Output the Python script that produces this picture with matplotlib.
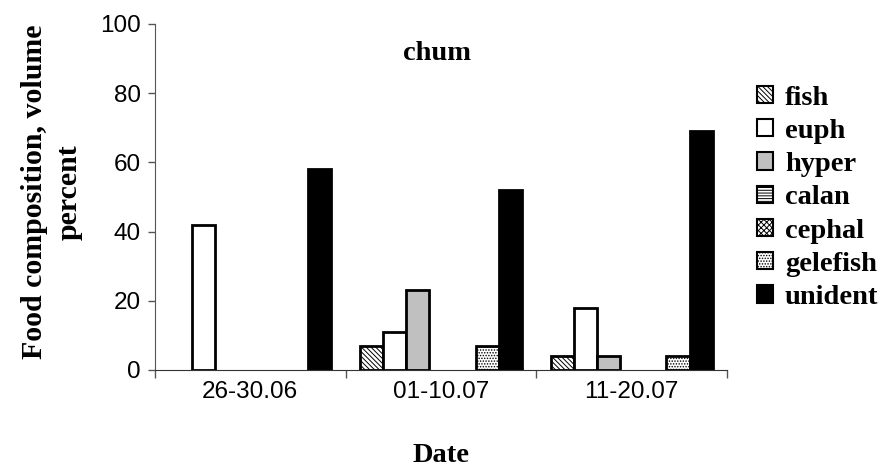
import matplotlib
matplotlib.use("Agg")
import matplotlib.pyplot as plt
import numpy as np

categories = ["26-30.06", "01-10.07", "11-20.07"]
series = ["fish", "euph", "hyper", "calan", "cephal", "gelefish", "unident"]
fish = [0, 7, 4]
euph = [42, 11, 18]
hyper = [0, 23, 4]
calan = [0, 0, 0]
cephal = [0, 0, 0]
gelefish = [0, 7, 4]
unident = [58, 52, 69]
values = [fish, euph, hyper, calan, cephal, gelefish, unident]

styles = [
    dict(facecolor="white", hatch="\\\\\\\\\\\\\\", edgecolor="black"),
    dict(facecolor="white", hatch="", edgecolor="black"),
    dict(facecolor="#c0c0c0", hatch="", edgecolor="black"),
    dict(facecolor="white", hatch="------", edgecolor="black"),
    dict(facecolor="white", hatch="xxxxxx", edgecolor="black"),
    dict(facecolor="white", hatch="......", edgecolor="black"),
    dict(facecolor="black", hatch="", edgecolor="black"),
]

plt.rcParams['hatch.linewidth'] = 0.7
plt.rcParams['hatch.color'] = '#555555'

fig = plt.figure(figsize=(8.85, 4.7), dpi=100)
ax = fig.add_axes([0.175, 0.2128, 0.6465, 0.7362])

n = len(series)
w = 0.85 / n
x = np.arange(len(categories))
for i, (name, vals, st) in enumerate(zip(series, values, styles)):
    pos = x - 0.425 + w * (i + 0.5)
    lws = [2 if v > 0 else 0 for v in vals]
    ax.bar(pos, vals, width=w, linewidth=lws, label=name, **st)

ax.set_xlim(-0.5, 2.5)
ax.set_ylim(0, 100)
ax.set_yticks([0, 20, 40, 60, 80, 100])
ax.set_xticks(x)
ax.set_xticklabels(categories)
ax.set_xticks([-0.5, 0.5, 1.5, 2.5], minor=True)
ax.tick_params(axis='x', which='major', length=0, pad=8)
ax.tick_params(axis='x', which='minor', direction='out', length=6, width=1, color="#555555")
ax.tick_params(axis='y', direction='out', length=5, width=1, pad=5, color="#555555")
for lab in ax.get_xticklabels() + ax.get_yticklabels():
    lab.set_fontfamily("Liberation Sans")
    lab.set_fontsize(17.5)
for s in ["top", "right"]:
    ax.spines[s].set_visible(False)
ax.spines["left"].set_color("#555555")
ax.spines["bottom"].set_color("#333333")

serif = dict(fontfamily="Liberation Serif", fontweight="bold")
ax.text(0.493, 0.915, "chum", transform=ax.transAxes, ha="center", va="center", fontsize=20.5, **serif)
ax.set_xlabel("Date", fontsize=20.5, labelpad=29, **serif)
ax.set_ylabel("Food composition, volume\npercent", fontsize=21.5, linespacing=1.35, **serif)
ax.yaxis.set_label_coords(-0.127, 0.514)

leg = ax.legend(loc="upper left", bbox_to_anchor=(1.033, 0.855), frameon=False,
                prop=dict(family="Liberation Serif", weight="bold", size=20.5),
                handlelength=0.55, handleheight=0.55, handletextpad=0.42, labelspacing=0.29,
                borderaxespad=0)
for h in leg.legend_handles:
    h.set_linewidth(1.5)

fig.savefig("out.png", dpi=100)
